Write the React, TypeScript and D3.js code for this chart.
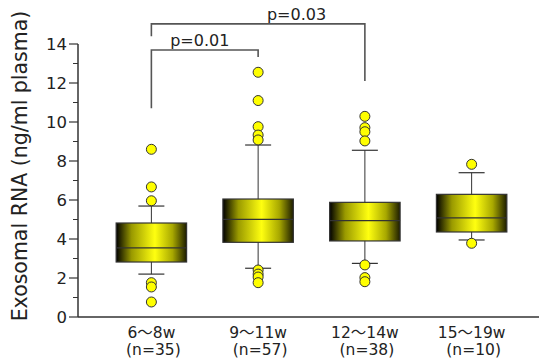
import React, { useEffect, useRef } from "react";
import * as d3 from "d3";

const categories = ["6〜8w", "9〜11w", "12〜14w", "15〜19w"];
const nLabels = ["(n=35)", "(n=57)", "(n=38)", "(n=10)"];
const q1 = [2.82, 3.83, 3.9, 4.36];
const medians = [3.54, 5.01, 4.94, 5.08];
const q3 = [4.82, 6.05, 5.88, 6.29];
const whiskerLow = [2.2, 2.5, 2.75, 3.95];
const whiskerHigh = [5.69, 8.82, 8.55, 7.4];
const outliers = [
  [8.6, 6.67, 5.96, 1.76, 1.54, 0.77],
  [12.55, 11.1, 9.76, 9.33, 9.08, 2.41, 2.2, 2.05, 1.76],
  [10.29, 9.71, 9.5, 9.03, 2.67, 2.02, 1.81],
  [7.83, 3.78],
];
const yTicks = [0, 2, 4, 6, 8, 10, 12, 14];
const yMinorTicks = [1, 3, 5, 7, 9, 11, 13];

// significance brackets (values on the y scale)
const brackets = [
  { from: 0, to: 1, level: 13.69, leftEnd: 10.7, rightEnd: 13.33, label: "p=0.01" },
  { from: 0, to: 2, level: 15.03, leftEnd: 14.4, rightEnd: 12.1, label: "p=0.03" },
];

const FONT = "'DejaVu Sans', 'Noto Sans CJK JP', sans-serif";

export default function App() {
  const svgRef = useRef<SVGSVGElement>(null);

  useEffect(() => {
    drawChart();
  }, []);

  const drawChart = () => {
    const width = 539;
    const height = 359;
    const axisX = 78;
    const axisRight = 539;

    d3.select(svgRef.current).selectAll("*").remove();

    const svg = d3
      .select(svgRef.current)
      .attr("width", width)
      .attr("height", height)
      .attr("viewBox", [0, 0, width, height].join(" "))
      .style("font-family", FONT);

    const x = d3.scaleBand().domain(categories).range([98, 525]).padding(0);
    const cx = (i: number) => x(categories[i])! + x.bandwidth() / 2;
    const boxW = x.bandwidth() * 0.66;
    const capW = 26;

    const y = d3.scaleLinear().domain([0, 14]).range([317, 44]);

    const defs = svg.append("defs");
    const grad = defs
      .append("linearGradient")
      .attr("id", "boxGrad")
      .attr("x1", "0%")
      .attr("x2", "100%")
      .attr("y1", "0%")
      .attr("y2", "0%");
    [
      [0, "#000000"],
      [0.22, "#9a9a00"],
      [0.55, "#ffff10"],
      [0.8, "#a8a800"],
      [1, "#1c1c00"],
    ].forEach(([o, c]) =>
      grad.append("stop").attr("offset", o as number).attr("stop-color", c as string)
    );

    // axes
    const axisColor = "#333";
    svg
      .append("line")
      .attr("x1", axisX)
      .attr("x2", axisX)
      .attr("y1", y(14))
      .attr("y2", y(0))
      .attr("stroke", axisColor)
      .attr("stroke-width", 1.5);
    svg
      .append("line")
      .attr("x1", axisX)
      .attr("x2", axisRight)
      .attr("y1", y(0))
      .attr("y2", y(0))
      .attr("stroke", axisColor)
      .attr("stroke-width", 1.5);

    svg
      .append("g")
      .selectAll("line")
      .data(yTicks)
      .join("line")
      .attr("x1", axisX - 9)
      .attr("x2", axisX)
      .attr("y1", (d) => y(d))
      .attr("y2", (d) => y(d))
      .attr("stroke", axisColor)
      .attr("stroke-width", 1.2);
    svg
      .append("g")
      .selectAll("line")
      .data(yMinorTicks)
      .join("line")
      .attr("x1", axisX - 5)
      .attr("x2", axisX)
      .attr("y1", (d) => y(d))
      .attr("y2", (d) => y(d))
      .attr("stroke", axisColor)
      .attr("stroke-width", 1);
    svg
      .append("g")
      .selectAll("text")
      .data(yTicks)
      .join("text")
      .attr("x", axisX - 11)
      .attr("y", (d) => y(d))
      .attr("dy", "0.36em")
      .attr("text-anchor", "end")
      .attr("font-size", 16.5)
      .attr("fill", "#222")
      .text((d) => d);

    svg
      .append("text")
      .attr("transform", `translate(27,${166}) rotate(-90)`)
      .attr("text-anchor", "middle")
      .attr("font-size", 20.5)
      .attr("fill", "#222")
      .text("Exosomal  RNA (ng/ml plasma)");

    // x labels
    const xl = svg.append("g").attr("font-size", 15.5).attr("fill", "#222").attr("text-anchor", "middle");
    xl.selectAll("text.cat")
      .data(categories)
      .join("text")
      .attr("class", "cat")
      .attr("x", (d, i) => cx(i))
      .attr("y", 338)
      .text((d) => d);
    xl.selectAll("text.n")
      .data(nLabels)
      .join("text")
      .attr("class", "n")
      .attr("x", (d, i) => cx(i) + 2)
      .attr("y", 355)
      .text((d) => d);

    // boxes
    const groups = svg
      .append("g")
      .selectAll("g")
      .data(categories)
      .join("g");

    groups
      .append("line")
      .attr("x1", (d, i) => cx(i))
      .attr("x2", (d, i) => cx(i))
      .attr("y1", (d, i) => y(whiskerLow[i]))
      .attr("y2", (d, i) => y(whiskerHigh[i]))
      .attr("stroke", "#333")
      .attr("stroke-width", 1);
    groups
      .selectAll("line.cap")
      .data((d, i) => [
        [i, whiskerLow[i]],
        [i, whiskerHigh[i]],
      ])
      .join("line")
      .attr("class", "cap")
      .attr("x1", (d) => cx(d[0]) - capW / 2)
      .attr("x2", (d) => cx(d[0]) + capW / 2)
      .attr("y1", (d) => y(d[1]))
      .attr("y2", (d) => y(d[1]))
      .attr("stroke", "#333")
      .attr("stroke-width", 1.2);
    groups
      .append("rect")
      .attr("x", (d, i) => cx(i) - boxW / 2)
      .attr("y", (d, i) => y(q3[i]))
      .attr("width", boxW)
      .attr("height", (d, i) => y(q1[i]) - y(q3[i]))
      .attr("fill", "url(#boxGrad)")
      .attr("stroke", "#333")
      .attr("stroke-width", 1.2);
    groups
      .append("line")
      .attr("x1", (d, i) => cx(i) - boxW / 2)
      .attr("x2", (d, i) => cx(i) + boxW / 2)
      .attr("y1", (d, i) => y(medians[i]))
      .attr("y2", (d, i) => y(medians[i]))
      .attr("stroke", "#333")
      .attr("stroke-width", 1.2);
    groups
      .selectAll("circle")
      .data((d, i) => outliers[i].map((v) => [i, v]))
      .join("circle")
      .attr("cx", (d) => cx(d[0]))
      .attr("cy", (d) => y(d[1]))
      .attr("r", 5)
      .attr("fill", "#ffff00")
      .attr("stroke", "#333")
      .attr("stroke-width", 1);

    // brackets
    const br = svg.append("g");
    brackets.forEach((b, k) => {
      const x1 = cx(b.from);
      const x2 = cx(b.to);
      br.append("path")
        .attr("d", `M${x1},${y(b.leftEnd)}V${y(b.level)}H${x2}V${y(b.rightEnd)}`)
        .attr("fill", "none")
        .attr("stroke", "#555")
        .attr("stroke-width", 1.6);
      // labels sit left of the bracket centre for the short one, right for the long one
      const lx = k === 0 ? (x1 + x2) / 2 - 5 : x1 + (x2 - x1) * 0.68;
      br.append("text")
        .attr("x", lx)
        .attr("y", y(b.level) - 4)
        .attr("text-anchor", "middle")
        .attr("font-size", 16)
        .attr("fill", "#222")
        .text(b.label);
    });
  };

  return <svg ref={svgRef} style={{ position: "absolute", left: 0, top: 0 }}></svg>;
}
